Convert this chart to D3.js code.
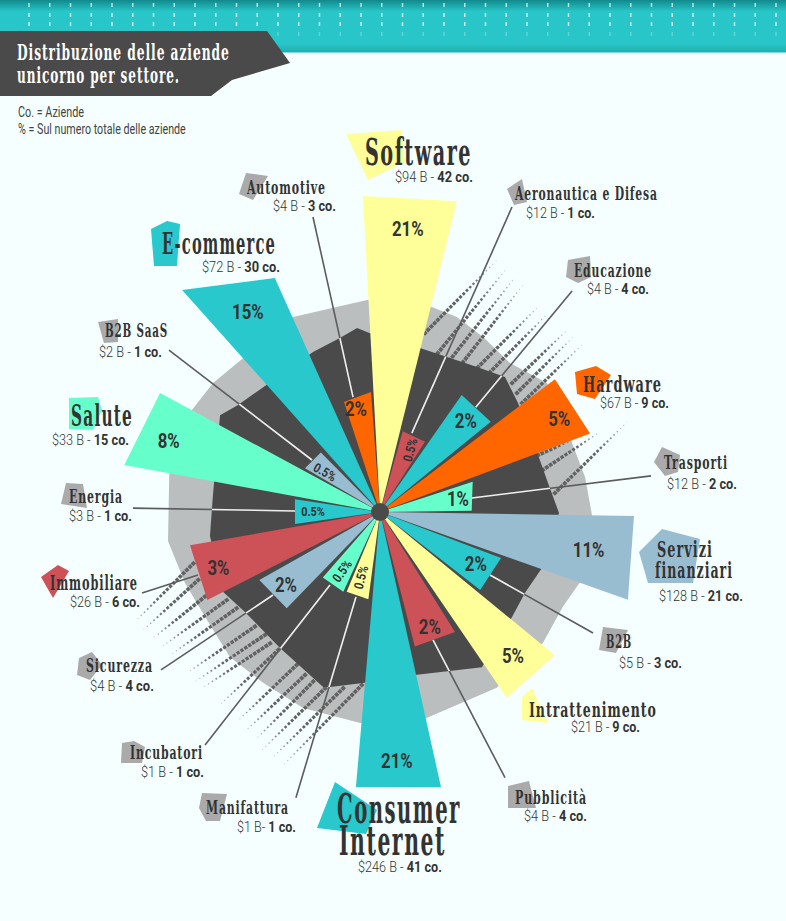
<!DOCTYPE html>
<html>
<head>
<meta charset="utf-8">
<script src="https://cdn.jsdelivr.net/npm/d3@7"></script>
<style>
  html, body { margin: 0; padding: 0; background: #f5ffff; }
  svg { display: block; }
  .slab { font-family: "DejaVu Serif Condensed", "DejaVu Serif", serif; font-weight: 700; letter-spacing: 0.07em; }
  .sans { font-family: Roboto, sans-serif; }
</style>
</head>
<body>
<div id="chart"></div>
<script>
// values, clockwise from the top
const sectors = ["Software", "Aeronautica e Difesa", "Educazione", "Hardware", "Trasporti", "Servizi finanziari", "B2B", "Intrattenimento", "Pubblicità", "Consumer Internet", "Manifattura", "Incubatori", "Sicurezza", "Immobiliare", "Energia", "Salute", "B2B SaaS", "E-commerce", "Automotive"];
const billions = [94, 12, 4, 67, 12, 128, 5, 21, 4, 246, 1, 1, 4, 26, 3, 33, 2, 72, 4];
const companies = [42, 1, 4, 9, 2, 21, 3, 9, 4, 41, 1, 1, 4, 6, 1, 15, 1, 30, 3];
const shares = ["21%", "0.5%", "2%", "5%", "1%", "11%", "2%", "5%", "2%", "21%", "0.5%", "0.5%", "2%", "3%", "0.5%", "8%", "0.5%", "15%", "2%"];

// wedges: angles in degrees, reach of the two outer corners
const wedgeFrom = [-3.1, 15.7, 34.9, 52.8, 71.9, 90.9, 110.8, 129.3, 148, 167.5, 187.6, 204.7, 224.1, 243, 262, 280.4, 300.2, 318.3, 341.9];
const wedgeTo = [13.9, 32.6, 50.8, 69.5, 89.2, 109.5, 127.9, 145.7, 165.5, 185, 202.7, 221.1, 240.6, 260.1, 278.5, 298.4, 315.2, 335.8, 355.7];
const reachFrom = [316.5, 84, 142.7, 219.6, 97.5, 254, 129.5, 226, 141.5, 282, 88, 87.7, 134, 193.8, 85.8, 260, 86.8, 297.5, 115.7];
const reachTo = [320, 83.5, 142.9, 224.3, 91.7, 263, 127, 225, 139, 276, 86.4, 87, 138.5, 192.8, 86, 250, 84, 256.5, 120.3];

// share label inside each wedge
const shareAngle = [5.6, 25.8, 43.4, 62.5, 80.5, 100.3, 118.4, 137.3, 156.5, 176.1, 196.3, 212.8, 232.2, 250.9, 270.9, 288.6, 306, 326.6, 346.9];
const shareReach = [285, 69, 125, 202, 79, 212, 109, 196, 125, 249, 68, 70, 119, 171, 67, 223, 68, 240, 106];

// leader lines, in sector order; no leader for the big sectors
const leaderSector = ["Aeronautica e Difesa", "Educazione", "Trasporti", "B2B", "Pubblicità", "Manifattura", "Incubatori", "Sicurezza", "Immobiliare", "Energia", "B2B SaaS", "Automotive"];
const leaderAngle0 = [22, 42.4, 81.3, 119.8, 157.5, 195.8, 214.4, 232.2, 250.9, 270.7, 307.4, 346.8];
const leaderReach0 = [85, 142, 93, 126.8, 138.5, 88.3, 88.5, 135.4, 192.6, 85, 85.6, 118];
const leaderAngle1 = [23.4, 41, 82.4, 119.6, 154.8, 196.4, 216.9, 234.2, 251.2, 270.9, 307.5, 347.2];
const leaderReach1 = [332.3, 292.8, 273.4, 245, 293.6, 297.8, 291.4, 270, 251.4, 247, 266, 302.5];

// the two stepped rings behind the wedges
const greyAngle = [-3.5, 14.2, 21.5, 30.5, 41.1, 52.3, 68.5, 80.3, 90.8, 109.3, 117.4, 128.8, 146.4, 167.1, 185.4, 201.4, 214.4, 226, 238, 250, 262.2, 280, 298.5, 307.7, 336];
const greyReach = [212.4, 211.5, 209.7, 203, 197.7, 211, 204, 208, 212, 212, 206, 209, 211, 211, 212, 210.6, 207, 208.6, 204, 207.5, 214, 214, 214, 211, 213.5];
const darkAngle = [-7.1, -3.2, 13.7, 23.4, 33.8, 42.8, 51.7, 70.2, 80.2, 90.3, 109.1, 119.2, 128.5, 146.7, 167.2, 185.7, 195.9, 198, 216.3, 233.5, 243, 262, 275.8, 301.2, 307, 337.3, 347];
const darkReach = [185.4, 179, 168.8, 168.9, 174.5, 184, 175.9, 168, 170.5, 179, 171.4, 166, 168.7, 185.6, 167, 171.8, 182, 184, 168.8, 168, 176, 171.7, 167.9, 187, 177.8, 173.5, 178.5];

// dotted fading streaks
const streakAngle0 = [14.1, 20, 24.7, 29, 34.1, 38.2, 45.7, 49, 52.5, 70.2, 75.5, 83.8, 254.6, 249.5, 244.2, 240.1, 236.1, 227.5, 223.1, 219.9, 216.4, 208.6, 204.7, 201.5, 197.3, 191.8, 186];
const streakReach0 = [184.6, 169.2, 167.3, 171.4, 175, 178, 184.6, 181.5, 179, 168, 168.3, 176, 193.6, 194, 194.4, 176.8, 172.7, 169.6, 168.4, 171.3, 171.4, 174.2, 179.4, 182.3, 184.7, 180, 174];
const streakAngle1 = [24.9, 27.5, 29.9, 32.2, 37.6, 40.2, 45.8, 47.8, 50.4, 69.5, 70, 70, 245.9, 243.5, 240.9, 238.3, 235.7, 230.2, 227.5, 225.3, 219.7, 214.3, 211.6, 208.7, 206.4, 203.7, 200.9];
const streakReach1 = [277.8, 275, 271, 268.3, 258.8, 260.4, 261, 260.5, 262, 206, 234, 263, 268.4, 264.5, 259.5, 256.5, 254, 251.8, 251, 250.7, 250.7, 254, 257.9, 260, 265.8, 269, 270.9];

const palette = { teal: "#28c8cc", yellow: "#ffff99", orange: "#ff6600", mint: "#66ffcc", blue: "#99bdd0", red: "#cc5258", grey: "#aaaaaa" };
const wedgeColor = d3.scaleOrdinal(sectors, [palette.yellow, palette.red, palette.teal, palette.orange, palette.mint, palette.blue, palette.teal, palette.yellow, palette.red, palette.teal, palette.yellow, palette.mint, palette.blue, palette.red, palette.teal, palette.mint, palette.blue, palette.teal, palette.orange]);
const ink = "#333333", dark = "#4a4a4a", ring = "#babebe";

// where the annotation text and the small shapes behind it sit
const labelLayout = {
  "Software": { size: 38, lines: [["Software", 365, 472, 165]], note: [395, 473, 182], blob: [[346, 134], [402, 130], [405, 162], [368, 180]] },
  "Aeronautica e Difesa": { size: 19, lines: [["Aeronautica e Difesa", 515, 658, 200]], note: [526, 595, 218], blob: [[507, 189], [522, 179], [527, 202], [514, 205]] },
  "Educazione": { size: 19, lines: [["Educazione", 574, 652, 277]], note: [587, 649, 294], blob: [[568, 260], [590, 256], [591, 277], [578, 283], [566, 277]] },
  "Hardware": { size: 23, lines: [["Hardware", 583, 662, 392]], note: [600, 669, 408], blob: [[575, 372], [596, 366], [611, 375], [595, 399], [577, 394]] },
  "Trasporti": { size: 19, lines: [["Trasporti", 664, 728, 469]], note: [667, 737, 489], blob: [[662, 447], [680, 455], [678, 472], [665, 476], [654, 462]] },
  "Servizi finanziari": { size: 23, lines: [["Servizi", 657, 713, 557], ["finanziari", 655, 733, 578]], note: [659, 743, 601], blob: [[662, 529], [700, 539], [693, 583], [648, 583], [639, 552]] },
  "B2B": { size: 19, lines: [["B2B", 606, 632, 648]], note: [619, 682, 668], blob: [[603, 627], [628, 630], [616, 653], [599, 650]] },
  "Intrattenimento": { size: 21, lines: [["Intrattenimento", 529, 657, 717]], note: [571, 640, 732], blob: [[532, 688], [548, 723], [522, 720], [522, 697]] },
  "Pubblicità": { size: 19, lines: [["Pubblicità", 515, 587, 804]], note: [524, 587, 821], blob: [[508, 786], [529, 781], [536, 808], [508, 808]] },
  "Consumer Internet": { size: 41, lines: [["Consumer", 337, 461, 823], ["Internet", 339, 446, 855]], note: [358, 442, 872], blob: [[335, 782], [377, 810], [366, 834], [317, 828]] },
  "Manifattura": { size: 19, lines: [["Manifattura", 206, 289, 814]], note: [237, 296, 832], blob: [[202, 793], [227, 794], [220, 821], [206, 821], [199, 808]] },
  "Incubatori": { size: 19, lines: [["Incubatori", 130, 203, 759]], note: [141, 204, 777], blob: [[122, 743], [134, 741], [145, 747], [142, 763], [121, 763]] },
  "Sicurezza": { size: 19, lines: [["Sicurezza", 86, 153, 672]], note: [90, 154, 691], blob: [[79, 658], [92, 652], [102, 665], [90, 680], [77, 675]] },
  "Immobiliare": { size: 21, lines: [["Immobiliare", 50, 138, 590]], note: [70, 140, 607], blob: [[41, 577], [58, 565], [69, 571], [53, 598]] },
  "Energia": { size: 19, lines: [["Energia", 69, 123, 503]], note: [69, 132, 521], blob: [[66, 483], [83, 484], [87, 508], [61, 504]] },
  "Salute": { size: 30, lines: [["Salute", 71, 133, 426]], note: [52, 129, 445], blob: [[69, 398], [98, 397], [102, 410], [93, 430], [69, 429]] },
  "B2B SaaS": { size: 19, lines: [["B2B SaaS", 105, 168, 337]], note: [99, 162, 357], blob: [[98, 322], [118, 319], [118, 342], [104, 343]] },
  "E-commerce": { size: 29, lines: [["E-commerce", 162, 276, 254]], note: [202, 280, 272], blob: [[151, 229], [167, 221], [180, 224], [177, 266], [154, 266]] },
  "Automotive": { size: 19, lines: [["Automotive", 247, 326, 194]], note: [273, 336, 211], blob: [[246, 173], [268, 176], [253, 200], [239, 194]] }
};
const blobColor = { "Software": palette.yellow, "Hardware": palette.orange, "Servizi finanziari": palette.blue, "Intrattenimento": palette.yellow, "Consumer Internet": palette.teal, "Immobiliare": palette.red, "Salute": palette.mint, "E-commerce": palette.teal };
const shareTilt = { "Aeronautica e Difesa": -75, "Manifattura": -76, "Incubatori": -55, "B2B SaaS": 30 };

const width = 786, height = 921;
const hub = { x: 380, y: 512 };

const svg = d3.select("#chart").append("svg")
  .attr("width", width)
  .attr("height", height);

const defs = svg.append("defs");

const band = defs.append("linearGradient").attr("id", "band").attr("x1", 0).attr("y1", 0).attr("x2", 0).attr("y2", 1);
band.append("stop").attr("offset", "0%").attr("stop-color", "#12898b");
band.append("stop").attr("offset", "22%").attr("stop-color", "#28c6c8");
band.append("stop").attr("offset", "84%").attr("stop-color", "#28c6c8");
band.append("stop").attr("offset", "100%").attr("stop-color", "#20aeb1");

// polar scales
const angle = d3.scaleLinear().domain([0, 360]).range([0, 2 * Math.PI]);
const reach = d3.scaleLinear().domain([0, 320]).range([0, 320]);
const radial = d3.lineRadial().angle(d => angle(d[0])).radius(d => reach(d[1])).curve(d3.curveLinearClosed);
const pt = (a, r) => d3.pointRadial(angle(a), reach(r));

// header band with its columns of dots
svg.append("rect").attr("width", width).attr("height", 52).attr("fill", "url(#band)");
svg.append("rect").attr("y", 52).attr("width", width).attr("height", 1).attr("fill", "#7fdcdc");

const dotX = d3.range(29, width, 20.75);
[[3, 0.7], [13, 0.75], [22, 0.75], [32, 0.25]].forEach(([y, op]) => {
  svg.append("g").selectAll("rect").data(dotX).enter().append("rect")
    .attr("x", d => d - 0.75)
    .attr("y", y)
    .attr("width", 1.5)
    .attr("height", 4)
    .attr("fill", "#ffffff")
    .attr("opacity", op);
});

// title banner
svg.append("polygon")
  .attr("points", "0,31 267,31 290,63 232,80 211,96 0,96")
  .attr("fill", dark);

[["Distribuzione delle aziende", 17, 230, 60], ["unicorno per settore.", 17, 180, 83]].forEach(l => {
  fit(svg.append("text").attr("class", "slab").attr("font-size", 22).attr("fill", "#ffffff").text(l[0]), l[1], l[2], l[3]);
});
[["Co. = Aziende", 18, 84, 117], ["% = Sul numero totale delle aziende", 18, 186, 134]].forEach(l => {
  fit(svg.append("text").attr("class", "sans").attr("font-size", 14).attr("fill", "#444444").text(l[0]), l[1], l[2], l[3]);
});

const plot = svg.append("g").attr("transform", "translate(" + hub.x + "," + hub.y + ")");

// rings
const darkPath = radial(darkAngle.map((a, i) => [a, darkReach[i]]));
plot.append("path").attr("d", radial(greyAngle.map((a, i) => [a, greyReach[i]]))).attr("fill", ring);

defs.append("clipPath").attr("id", "in-dark").append("path").attr("d", darkPath);

// dotted streaks, the dots shrink and fade going out
const dotSize = d3.scaleLinear().domain([0, 0.5, 1]).range([3.9, 3, 0.8]);
const dotFade = d3.scaleLinear().domain([0, 0.6, 1]).range([1, 1, 0.35]);
const streaks = plot.append("g");
streakAngle0.forEach((a, i) => {
  const p0 = pt(a, streakReach0[i]), p1 = pt(streakAngle1[i], streakReach1[i]);
  const len = Math.hypot(p1[0] - p0[0], p1[1] - p0[1]);
  const rot = Math.atan2(p1[1] - p0[1], p1[0] - p0[0]) * 180 / Math.PI;
  const t = d3.range(0, 1.0001, 4.6 / len);
  streaks.append("g").selectAll("rect").data(t).enter().append("rect")
    .attr("x", d => -dotSize(d) / 2)
    .attr("y", d => -dotSize(d) / 2)
    .attr("width", dotSize)
    .attr("height", dotSize)
    .attr("fill", "#626262")
    .attr("opacity", dotFade)
    .attr("transform", d => "translate(" + (p0[0] + d * (p1[0] - p0[0])) + "," + (p0[1] + d * (p1[1] - p0[1])) + ") rotate(" + rot + ")");
});

plot.append("path").attr("d", darkPath).attr("fill", dark);

// leaders are light over the dark ring and grey elsewhere
const leaders = leaderSector.map((s, i) => ({ a: pt(leaderAngle0[i], leaderReach0[i]), b: pt(leaderAngle1[i], leaderReach1[i]) }));
plot.append("g").selectAll("line").data(leaders).enter().append("line")
  .attr("x1", d => d.a[0]).attr("y1", d => d.a[1])
  .attr("x2", d => d.b[0]).attr("y2", d => d.b[1])
  .attr("stroke", "#5c5c5c").attr("stroke-width", 1.6);
plot.append("g").attr("clip-path", "url(#in-dark)").selectAll("line").data(leaders).enter().append("line")
  .attr("x1", d => d.a[0]).attr("y1", d => d.a[1])
  .attr("x2", d => d.b[0]).attr("y2", d => d.b[1])
  .attr("stroke", "#eeeeee").attr("stroke-width", 1.6);

// wedges
const wedge = d3.lineRadial().angle(d => angle(d[0])).radius(d => reach(d[1])).curve(d3.curveLinearClosed);
plot.append("g").selectAll("path").data(sectors).enter().append("path")
  .attr("d", (s, i) => wedge([[wedgeFrom[i], 0], [wedgeFrom[i], reachFrom[i]], [wedgeTo[i], reachTo[i]], [wedgeTo[i], 0]]))
  .attr("fill", s => wedgeColor(s));

plot.append("circle").attr("r", 9).attr("fill", dark);

// share labels
plot.append("g").selectAll("text").data(sectors).enter().append("text")
  .attr("class", "sans")
  .attr("font-weight", 700)
  .attr("fill", ink)
  .attr("text-anchor", "middle")
  .attr("dy", "0.36em")
  .attr("font-size", (s, i) => shares[i] === "0.5%" ? 13 : 20)
  .attr("transform", (s, i) => {
    const p = pt(shareAngle[i], shareReach[i]);
    return "translate(" + p[0] + "," + p[1] + ") rotate(" + (shareTilt[s] || 0) + ") scale(0.84,1)";
  })
  .text((s, i) => shares[i]);

// sector labels and the shapes behind them
const blobLine = d3.line().x(d => d[0]).y(d => d[1]).curve(d3.curveLinearClosed);
sectors.forEach((s, i) => {
  const l = labelLayout[s];
  svg.append("path").attr("d", blobLine(l.blob)).attr("fill", blobColor[s] || palette.grey);
  l.lines.forEach(t => {
    fit(svg.append("text").attr("class", "slab").attr("font-size", l.size).attr("fill", ink).text(t[0]), t[1], t[2], t[3]);
  });
  const note = svg.append("text").attr("class", "sans").attr("font-size", 14).attr("fill", ink);
  note.append("tspan").attr("font-weight", 300).text("$" + billions[i] + " B" + (s === "Manifattura" ? "- " : " - "));
  note.append("tspan").attr("font-weight", 700).text(companies[i] + " co.");
  fit(note, l.note[0], l.note[1], l.note[2]);
});

// squeeze a text into the span it takes in the picture
function fit(sel, x0, x1, y) {
  const k = (x1 - x0) / sel.node().getComputedTextLength();
  sel.attr("transform", "translate(" + x0 + "," + y + ") scale(" + k + ",1)");
}
</script>
</body>
</html>
